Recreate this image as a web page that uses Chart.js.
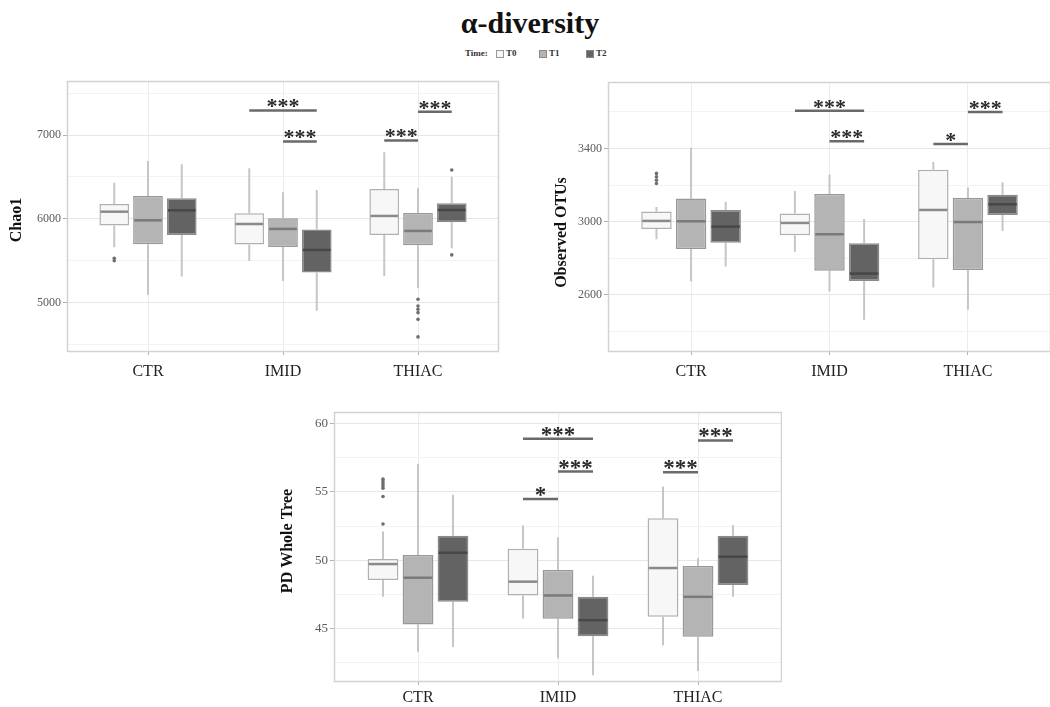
<!DOCTYPE html>
<html>
<head>
<meta charset="utf-8">
<script src="https://cdn.jsdelivr.net/npm/chart.js@4/dist/chart.umd.min.js"></script>
<style>
html,body{margin:0;padding:0;width:1050px;height:707px;overflow:hidden;background:#fff;font-family:'Liberation Serif','Times New Roman',serif;}
#title{position:absolute;left:0;top:8px;width:1060px;text-align:center;font-weight:bold;font-size:30px;line-height:30px;color:#111;}
.lg{position:absolute;top:47px;height:12px;line-height:12px;font-size:9px;font-weight:bold;color:#333;}
.lb{position:absolute;top:50px;width:6px;height:6px;border:1px solid #888;}
canvas{position:absolute;}
</style>
</head>
<body>
<div id="title">α-diversity</div>
<div class="lg" style="left:465px">Time:</div>
<div class="lb" style="left:496px;background:#f7f7f7;border-color:#999"></div>
<div class="lg" style="left:506px">T0</div>
<div class="lb" style="left:539px;background:#b4b4b4"></div>
<div class="lg" style="left:549px">T1</div>
<div class="lb" style="left:586px;background:#636363"></div>
<div class="lg" style="left:596px">T2</div>

<canvas id="c1" width="520" height="334" style="left:0;top:61px"></canvas>
<canvas id="c2" width="506" height="333" style="left:545px;top:62px"></canvas>
<canvas id="c3" width="512" height="315" style="left:270px;top:392px"></canvas>

<script>
// ---------------- data ----------------
const categories = ['CTR', 'IMID', 'THIAC'];
const timeLabels = ['T0', 'T1', 'T2'];

// five-number summaries per category: [whisker low, Q1, median, Q3, whisker high]
const chaoT0 = [[5660, 5919, 6085, 6177, 6431], [5497, 5692, 5938, 6066, 6602], [5318, 5807, 6034, 6356, 6793]];
const chaoT1 = [[5092, 5696, 5982, 6272, 6690], [5258, 5664, 5879, 6006, 6316], [5171, 5684, 5855, 6070, 6364]];
const chaoT2 = [[5310, 5807, 6101, 6245, 6650], [4901, 5358, 5628, 5871, 6344], [5648, 5958, 6105, 6185, 6503]];
// outliers [time][category]
const chaoOutliers = [[[5500, 5530], [], []], [[], [], [5040, 4960, 4920, 4880, 4800, 4590]], [[], [], [6583, 5569]]];
// significance bars: [category, from time, to time, y, label]
const chaoSig = [[1, 0, 2, 7294, '***'], [1, 1, 2, 6924, '***'], [2, 0, 1, 6936, '***'], [2, 1, 2, 7278, '***']];
const chaoTicks = [4500, 5000, 5500, 6000, 6500, 7000, 7500];
const chaoMajor = [5000, 6000, 7000];

const otuT0 = [[2904, 2960, 3004, 3055, 3080], [2836, 2925, 2993, 3045, 3169], [2640, 2795, 3064, 3284, 3327]];
const otuT1 = [[2673, 2851, 3002, 3127, 3404], [2618, 2731, 2931, 3151, 3258], [2518, 2736, 2998, 3129, 3187]];
const otuT2 = [[2755, 2885, 2973, 3064, 3109], [2464, 2676, 2716, 2882, 3015], [2949, 3036, 3095, 3147, 3215]];
const otuOutliers = [[[3264, 3245, 3227, 3209], [], []], [[], [], []], [[], [], []]];
const otuSig = [[1, 0, 2, 3607, '***'], [1, 1, 2, 3440, '***'], [2, 0, 1, 3425, '*'], [2, 1, 2, 3600, '***']];
const otuTicks = [2400, 2600, 2800, 3000, 3200, 3400, 3600];
const otuMajor = [2600, 3000, 3400];

const pdT0 = [[47.32, 48.55, 49.72, 50.09, 52.1], [45.73, 47.42, 48.43, 50.85, 52.54], [43.78, 45.86, 49.43, 53.08, 55.4]];
const pdT1 = [[43.29, 45.29, 48.72, 50.38, 57.06], [42.8, 45.71, 47.42, 49.28, 51.68], [41.89, 44.39, 47.32, 49.58, 50.14]];
const pdT2 = [[43.65, 46.96, 50.55, 51.8, 54.79], [41.57, 44.44, 45.61, 47.32, 48.87], [47.32, 48.18, 50.26, 51.8, 52.59]];
const pdOutliers = [[[55.94, 55.77, 55.6, 55.45, 55.28, 54.67, 52.66], [], []], [[], [], []], [[], [], []]];
const pdSig = [[1, 0, 2, 58.9, '***'], [1, 1, 2, 56.5, '***'], [1, 0, 1, 54.49, '*'], [2, 0, 1, 56.45, '***'], [2, 1, 2, 58.78, '***']];
const pdTicks = [42.5, 45, 47.5, 50, 52.5, 55, 57.5, 60];
const pdMajor = [45, 50, 55, 60];

// ---------------- styles ----------------
const FONT = "'Liberation Serif', 'Times New Roman', serif";
const fills = ['#f7f7f7', '#b4b4b4', '#636363'];
const edges = ['#b0b0b0', '#989898', '#8a8a8a'];
const medianColors = ['#8a8a8a', '#7a7a7a', '#474747'];

const boxExtras = {
  id: 'boxExtras',
  beforeDatasetsDraw(chart, args, o) {
    const ctx = chart.ctx, ys = chart.scales.y;
    ctx.save();
    ctx.strokeStyle = '#c6c6c6';
    ctx.lineWidth = 2;
    o.stats.forEach((s, t) => {
      const meta = chart.getDatasetMeta(t);
      s.forEach((v, c) => {
        const el = meta.data[c];
        ctx.beginPath();
        ctx.moveTo(el.x, ys.getPixelForValue(v[0]));
        ctx.lineTo(el.x, ys.getPixelForValue(v[1]));
        ctx.moveTo(el.x, ys.getPixelForValue(v[3]));
        ctx.lineTo(el.x, ys.getPixelForValue(v[4]));
        ctx.stroke();
      });
    });
    ctx.restore();
  },
  afterDatasetsDraw(chart, args, o) {
    const ctx = chart.ctx, ys = chart.scales.y, a = chart.chartArea;
    ctx.save();
    // medians
    o.stats.forEach((s, t) => {
      const meta = chart.getDatasetMeta(t);
      ctx.strokeStyle = medianColors[t];
      ctx.lineWidth = 2.5;
      s.forEach((v, c) => {
        const el = meta.data[c];
        const py = ys.getPixelForValue(v[2]);
        ctx.beginPath();
        ctx.moveTo(el.x - el.width / 2 + 1, py);
        ctx.lineTo(el.x + el.width / 2 - 1, py);
        ctx.stroke();
      });
    });
    // outliers
    ctx.fillStyle = '#6e6e6e';
    o.outliers.forEach((byCat, t) => {
      const meta = chart.getDatasetMeta(t);
      byCat.forEach((pts, c) => {
        const el = meta.data[c];
        pts.forEach(p => {
          const py = ys.getPixelForValue(p);
          ctx.beginPath();
          ctx.arc(el.x, py, 1.8, 0, Math.PI * 2);
          ctx.fill();
        });
      });
    });
    // significance bars
    o.sig.forEach(([c, t1, t2, yv, label]) => {
      const x1 = chart.getDatasetMeta(t1).data[c].x;
      const x2 = chart.getDatasetMeta(t2).data[c].x;
      const py = ys.getPixelForValue(yv);
      ctx.strokeStyle = '#6a6a6a';
      ctx.lineWidth = 2.5;
      ctx.beginPath();
      ctx.moveTo(x1, py);
      ctx.lineTo(x2, py);
      ctx.stroke();
      ctx.fillStyle = '#2a2a2a';
      ctx.font = 'bold ' + o.starSize + 'px ' + FONT;
      ctx.textAlign = 'center';
      ctx.textBaseline = 'alphabetic';
      ctx.fillText(label, (x1 + x2) / 2, py + 3);
    });
    // panel border
    ctx.strokeStyle = '#d2d2d2';
    ctx.lineWidth = 1.5;
    ctx.strokeRect(a.left + 0.5, a.top + 0.5, a.right - a.left - 1, a.bottom - a.top - 1);
    // y-axis title
    ctx.fillStyle = '#111';
    ctx.font = 'bold 16px ' + FONT;
    ctx.textAlign = 'center';
    ctx.textBaseline = 'middle';
    ctx.translate(o.titleX, (a.top + a.bottom) / 2 + o.titleShift);
    ctx.rotate(-Math.PI / 2);
    ctx.fillText(o.yTitle, 0, 0);
    ctx.restore();
  }
};

function makePanel(id, cfg) {
  const datasets = cfg.stats.map((s, t) => ({
    label: timeLabels[t],
    data: s.map((v, c) => ({ x: c + 1, y: [v[1], v[3]] })),
    backgroundColor: fills[t],
    borderColor: edges[t],
    borderWidth: 1.5,
    borderSkipped: false,
    categoryPercentage: 0.75,
    barPercentage: 0.88
  }));
  return new Chart(document.getElementById(id), {
    type: 'bar',
    data: { datasets },
    options: {
      responsive: false,
      animation: false,
      devicePixelRatio: 1,
      layout: { padding: { top: 20, right: cfg.padRight, left: 0, bottom: 0 } },
      plugins: {
        legend: { display: false },
        tooltip: { enabled: false },
        boxExtras: {
          stats: cfg.stats, outliers: cfg.outliers, sig: cfg.sig, starSize: cfg.starSize,
          yTitle: cfg.yTitle, titleX: cfg.titleX, titleShift: cfg.titleShift
        }
      },
      scales: {
        x: {
          type: 'linear', min: 0.4, max: 3.6, offset: false,
          afterBuildTicks: s => { s.ticks = categories.map((_, i) => ({ value: i + 1 })); },
          afterFit: s => { s.height = cfg.xHeight; },
          ticks: {
            callback: v => categories[Math.round(v) - 1] || '',
            font: { family: FONT, size: 16 }, color: '#222',
            padding: cfg.xPad, maxRotation: 0, autoSkip: false
          },
          grid: { color: '#ececec', lineWidth: 1, offset: false, tickLength: 3, tickColor: '#b0b0b0' },
          border: { display: false }
        },
        y: {
          type: 'linear', min: cfg.min, max: cfg.max,
          afterBuildTicks: s => { s.ticks = cfg.ticks.map(v => ({ value: v })); },
          afterFit: s => { s.width = cfg.yWidth; },
          ticks: {
            callback: v => cfg.major.includes(v) ? String(v) : '',
            font: { family: FONT, size: cfg.tickSize }, color: '#5a5a5a', padding: 2
          },
          grid: {
            color: c => cfg.major.includes(c.tick.value) ? '#e6e6e6' : '#f3f3f3',
            tickColor: c => cfg.major.includes(c.tick.value) ? '#b0b0b0' : 'rgba(0,0,0,0)',
            tickLength: 4, lineWidth: 1
          },
          border: { display: false },
          title: { display: false }
        }
      }
    },
    plugins: [boxExtras]
  });
}

makePanel('c1', {
  stats: [chaoT0, chaoT1, chaoT2], outliers: chaoOutliers, sig: chaoSig,
  ticks: chaoTicks, major: chaoMajor, min: 4410, max: 7645,
  yTitle: 'Chao1', titleX: 17, titleShift: 3.5,
  yWidth: 67, xHeight: 43, padRight: 21, xPad: 7, tickSize: 12, starSize: 22
});
makePanel('c2', {
  stats: [otuT0, otuT1, otuT2], outliers: otuOutliers, sig: otuSig,
  ticks: otuTicks, major: otuMajor, min: 2287, max: 3764,
  yTitle: 'Observed OTUs', titleX: 17, titleShift: 15.5,
  yWidth: 63, xHeight: 43, padRight: 0, xPad: 7, tickSize: 12, starSize: 22
});
makePanel('c3', {
  stats: [pdT0, pdT1, pdT2], outliers: pdOutliers, sig: pdSig,
  ticks: pdTicks, major: pdMajor, min: 41.08, max: 60.86,
  yTitle: 'PD Whole Tree', titleX: 18, titleShift: -6,
  yWidth: 64, xHeight: 25, padRight: 0, xPad: 3, tickSize: 13, starSize: 23
});
</script>
</body>
</html>
